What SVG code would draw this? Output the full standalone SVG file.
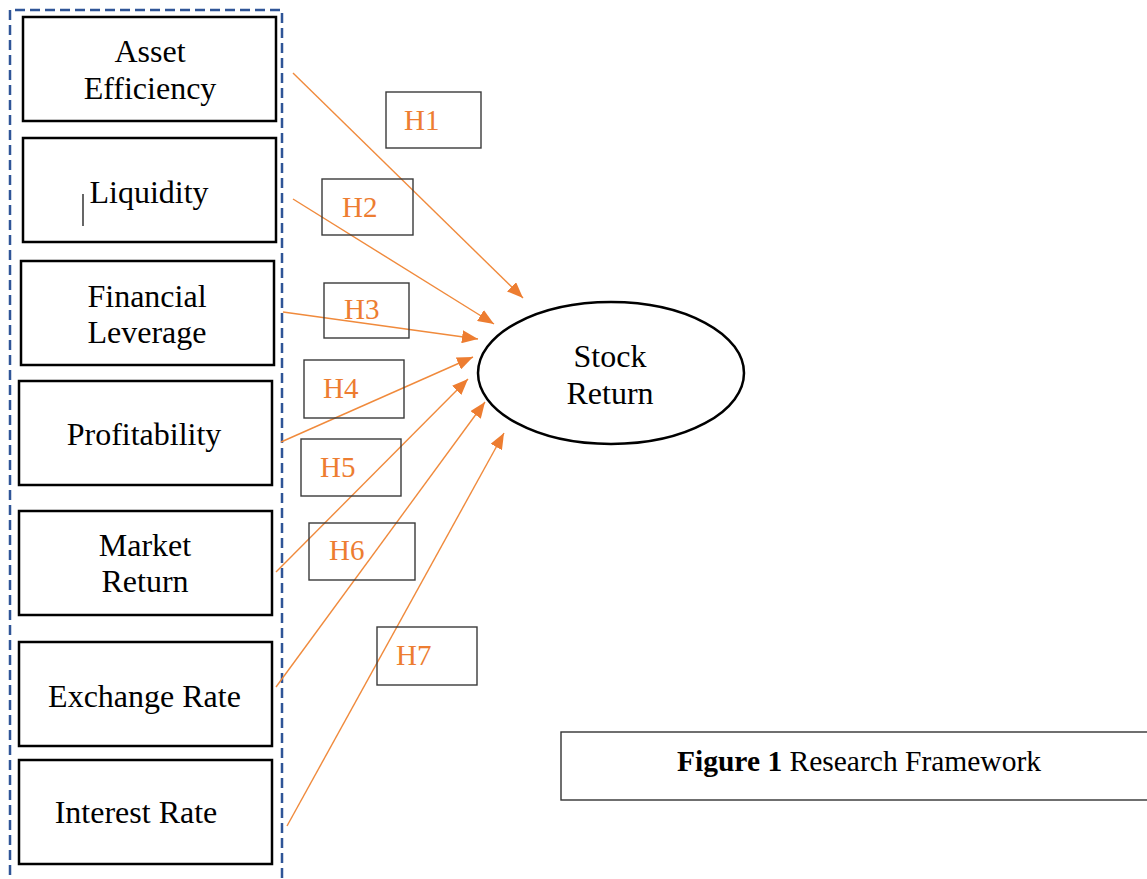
<svg xmlns="http://www.w3.org/2000/svg" width="1147" height="879" viewBox="0 0 1147 879">
<style>
.node{fill:#fff;stroke:#000;stroke-width:2.5}
.t{font-family:"Liberation Serif","Times New Roman",serif;font-size:32px;fill:#000;text-anchor:middle}
.hb{fill:none;stroke:#3a3a3a;stroke-width:1.4}
.ht{font-family:"Liberation Serif","Times New Roman",serif;font-size:29px;fill:#ED7D31}
.arr{stroke:#F08A3C;stroke-width:1.4;fill:none;marker-end:url(#ah)}
.cap{font-family:"Liberation Serif","Times New Roman",serif;font-size:29.5px;fill:#000}
</style>
<defs>
<marker id="ah" markerUnits="userSpaceOnUse" markerWidth="17" markerHeight="13" refX="16" refY="6.5" orient="auto">
<path d="M0,0 L16,6.5 L0,13 z" fill="#ED7D31"/>
</marker>
</defs>
<rect width="1147" height="879" fill="#fff"/>
<path d="M10,890 V10 H282 V890" fill="none" stroke="#2F5597" stroke-width="2.5" stroke-dasharray="10 5"/>
<g id="n1"><rect class="node" x="23" y="17" width="253" height="104"/><text class="t" x="150" y="62">Asset</text><text class="t" x="150" y="99">Efficiency</text></g>
<g id="n2"><rect class="node" x="23" y="138" width="253" height="104"/><text class="t" x="149" y="203">Liquidity</text><line x1="83" y1="194" x2="83" y2="226" stroke="#000" stroke-width="1.2"/></g>
<g id="n3"><rect class="node" x="21" y="261" width="253" height="104"/><text class="t" x="147" y="307">Financial</text><text class="t" x="147" y="343">Leverage</text></g>
<g id="n4"><rect class="node" x="19" y="381" width="253" height="104"/><text class="t" x="144" y="445">Profitability</text></g>
<g id="n5"><rect class="node" x="19" y="511" width="253" height="104"/><text class="t" x="145" y="556">Market</text><text class="t" x="145" y="592">Return</text></g>
<g id="n6"><rect class="node" x="19" y="642" width="253" height="104"/><text class="t" x="144.5" y="707">Exchange Rate</text></g>
<g id="n7"><rect class="node" x="19" y="760" width="253" height="104"/><text class="t" x="136" y="823">Interest Rate</text></g>
<g id="target"><ellipse cx="611" cy="373" rx="133" ry="71" fill="#fff" stroke="#000" stroke-width="2.5"/><text class="t" x="610" y="367">Stock</text><text class="t" x="610" y="404">Return</text></g>
<g id="connectors">
<line class="arr" x1="293" y1="73" x2="523" y2="298"/>
<line class="arr" x1="293" y1="199" x2="494" y2="324"/>
<line class="arr" x1="283" y1="312" x2="478" y2="339"/>
<line class="arr" x1="281" y1="442" x2="473" y2="357"/>
<line class="arr" x1="276" y1="572" x2="468" y2="379"/>
<line class="arr" x1="276" y1="687" x2="485" y2="402"/>
<line class="arr" x1="287" y1="826" x2="504" y2="433"/>
</g>
<g id="h1"><rect class="hb" x="386" y="92" width="95" height="56"/><text class="ht" x="404" y="130">H1</text></g>
<g id="h2"><rect class="hb" x="322" y="179" width="91" height="56"/><text class="ht" x="342" y="217">H2</text></g>
<g id="h3"><rect class="hb" x="324" y="283" width="85" height="55"/><text class="ht" x="344" y="319">H3</text></g>
<g id="h4"><rect class="hb" x="304" y="360" width="100" height="58"/><text class="ht" x="323" y="398">H4</text></g>
<g id="h5"><rect class="hb" x="301" y="439" width="100" height="57"/><text class="ht" x="320" y="477">H5</text></g>
<g id="h6"><rect class="hb" x="309" y="523" width="106" height="57"/><text class="ht" x="329" y="560">H6</text></g>
<g id="h7"><rect class="hb" x="377" y="627" width="100" height="58"/><text class="ht" x="396" y="665">H7</text></g>
<g id="caption"><rect x="561" y="732" width="600" height="68" fill="none" stroke="#333" stroke-width="1.4"/><text class="cap" x="677" y="771"><tspan font-weight="bold">Figure 1</tspan> Research Framework</text></g>
</svg>
